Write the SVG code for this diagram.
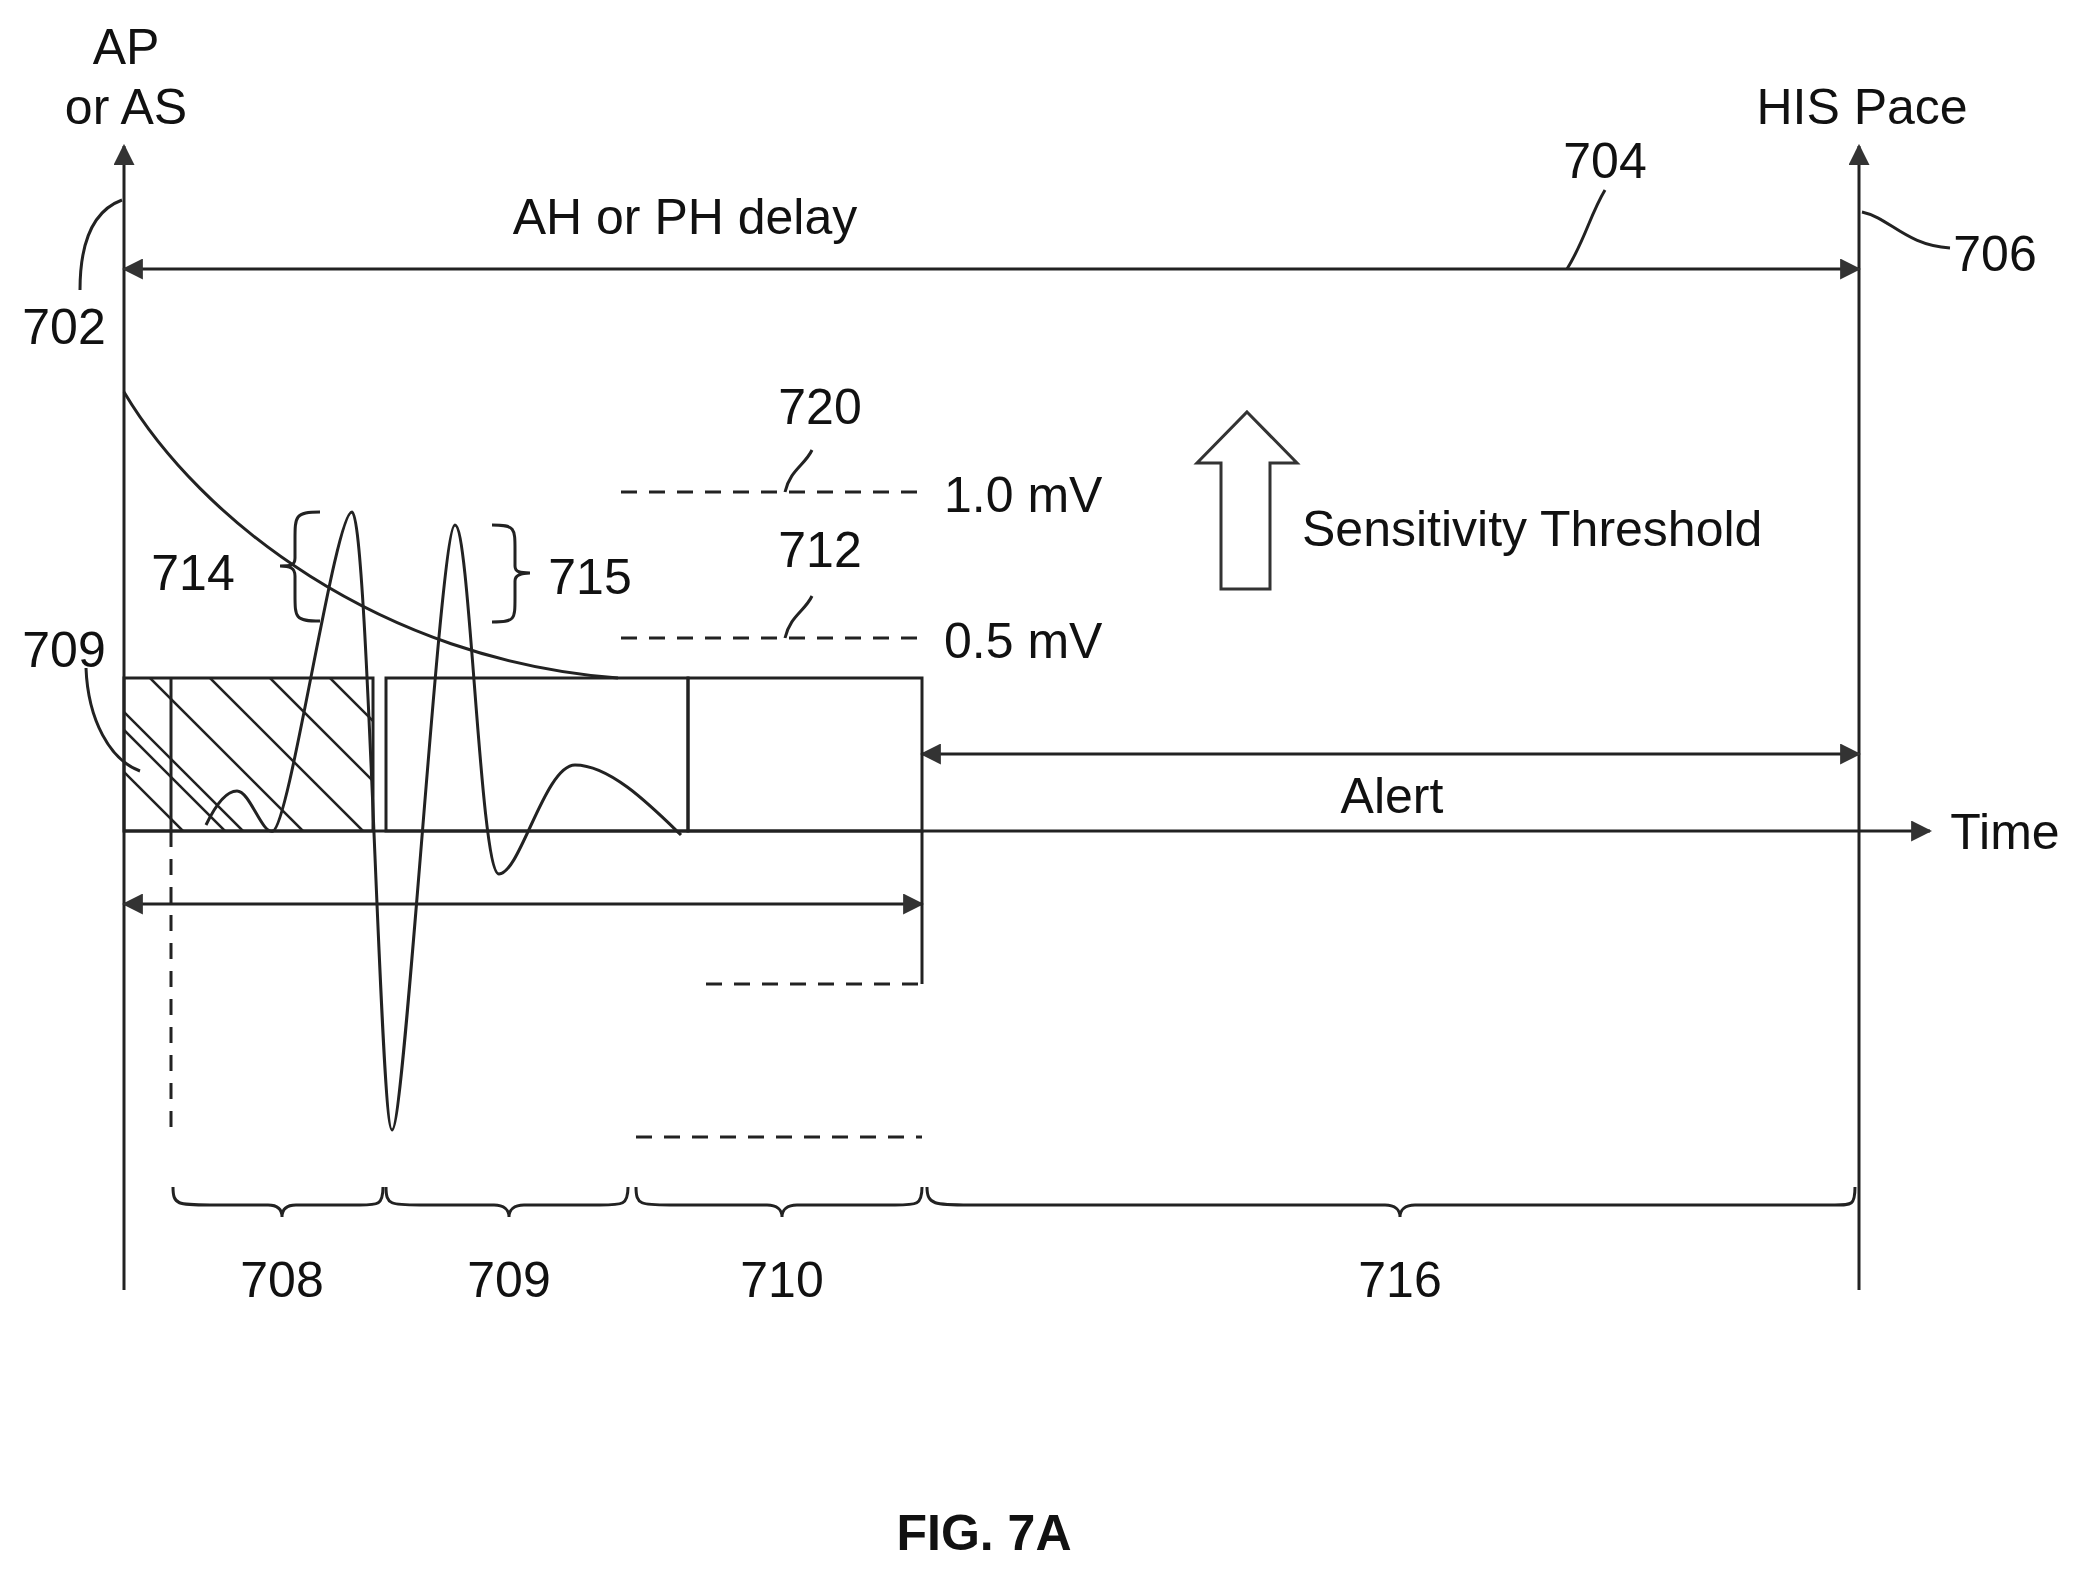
<svg xmlns="http://www.w3.org/2000/svg" width="2085" height="1572" viewBox="0 0 2085 1572">
<style>
text{font-family:"Liberation Sans",Arial,sans-serif;font-size:50px;fill:#111}
.l{stroke:#222;stroke-width:3;fill:none}
.d{stroke:#222;stroke-width:3;fill:none;stroke-dasharray:16 12}
.h{stroke:#222;stroke-width:2.5}
</style>
<defs>
<marker id="a" viewBox="0 0 10 10" refX="9" refY="5" markerWidth="7" markerHeight="7" orient="auto-start-reverse"><path d="M0 0L10 5L0 10z" fill="#333"/></marker>
<clipPath id="hc"><rect x="124" y="678" width="249" height="153"/></clipPath>
</defs>
<g id="connectors">
<line class="l" x1="124" y1="1290" x2="124" y2="146" marker-end="url(#a)"/>
<line class="l" x1="1859" y1="1290" x2="1859" y2="146" marker-end="url(#a)"/>
<line class="l" x1="124" y1="269" x2="1859" y2="269" marker-start="url(#a)" marker-end="url(#a)"/>
<path class="l" d="M1567 269C1585 240 1590 215 1605 190"/>
<path class="l" d="M1862 212C1890 218 1905 245 1950 248"/>
<path class="l" d="M122 200C95 210 80 240 80 290"/>
<line class="l" x1="124" y1="831" x2="1930" y2="831" marker-end="url(#a)"/>
<line class="l" x1="922" y1="754" x2="1859" y2="754" marker-start="url(#a)" marker-end="url(#a)"/>
<line class="l" x1="124" y1="904" x2="922" y2="904" marker-start="url(#a)" marker-end="url(#a)"/>
<path class="l" d="M124 392C200 520 380 660 618 678" stroke-width="5"/>
<line class="d" x1="621" y1="492" x2="918" y2="492"/>
<line class="d" x1="621" y1="638" x2="918" y2="638"/>
<path class="l" d="M785 492C790 470 805 465 812 450"/>
<path class="l" d="M785 638C790 616 805 611 812 596"/>
<rect class="l" x="124" y="678" width="249" height="153"/>
<g clip-path="url(#hc)">
<path class="h" d="M90 678L243 831M150 678L303 831M210 678L363 831M270 678L423 831M330 678L483 831M30 678L183 831M124 730L225 831"/>
</g>
<line class="l" x1="171" y1="678" x2="171" y2="831"/>
<rect class="l" x="386" y="678" width="302" height="153"/>
<rect class="l" x="688" y="678" width="234" height="153"/>
<polyline class="l" points="922,831 922,984"/>
<line class="d" x1="706" y1="984" x2="922" y2="984"/>
<line class="d" x1="636" y1="1137" x2="922" y2="1137"/>
<line class="d" x1="171" y1="831" x2="171" y2="1130"/>
<path class="l" d="M206 825C218 800 228 791 237 791C250 791 262 835 273 831C290 825 335 512 352 512C368 512 380 1130 392 1130C405 1130 440 525 455 525C470 525 480 874 499 874C520 874 545 765 575 765C610 765 650 805 681 835"/>
<path class="l" d="M140 771C110 760 88 720 86 668"/>
<path class="l" d="M320 512C295 512 295 516 295 540L295 558C295 566 290 566 280 566C290 566 295 568 295 576L295 594C295 618 295 621 320 621"/>
<path class="l" d="M492 525C515 525 515 528 515 550L515 566C515 572 520 573 530 573C520 573 515 575 515 581L515 597C515 620 515 622 492 622"/>
<path class="l" d="M173 1187C173 1205 178 1205 210 1205L268 1205C278 1205 282 1210 282 1217C282 1210 286 1205 296 1205L360 1205C378 1205 383 1205 383 1187"/>
<path class="l" d="M386 1187C386 1205 391 1205 420 1205L494 1205C504 1205 509 1210 509 1217C509 1210 514 1205 524 1205L600 1205C623 1205 628 1205 628 1187"/>
<path class="l" d="M636 1187C636 1205 641 1205 670 1205L767 1205C777 1205 782 1210 782 1217C782 1210 787 1205 797 1205L895 1205C917 1205 922 1205 922 1187"/>
<path class="l" d="M927 1187C927 1205 935 1205 970 1205L1385 1205C1395 1205 1400 1210 1400 1217C1400 1210 1405 1205 1415 1205L1835 1205C1852 1205 1855 1205 1855 1187"/>
</g>
<g id="arrow-thr"><path d="M1247 412L1297 463L1270 463L1270 589L1221 589L1221 463L1197 463Z" fill="#fff" stroke="#333" stroke-width="3"/></g>
<g id="labels">
<text x="126" y="64" text-anchor="middle">AP</text>
<text x="126" y="124" text-anchor="middle">or AS</text>
<text x="1862" y="124" text-anchor="middle">HIS Pace</text>
<text x="1605" y="178" text-anchor="middle">704</text>
<text x="685" y="234" text-anchor="middle">AH or PH delay</text>
<text x="1995" y="271" text-anchor="middle">706</text>
<text x="64" y="344" text-anchor="middle">702</text>
<text x="820" y="424" text-anchor="middle">720</text>
<text x="944" y="512">1.0 mV</text>
<text x="820" y="567" text-anchor="middle">712</text>
<text x="944" y="658">0.5 mV</text>
<text x="1302" y="546">Sensitivity Threshold</text>
<text x="193" y="590" text-anchor="middle">714</text>
<text x="590" y="594" text-anchor="middle">715</text>
<text x="64" y="667" text-anchor="middle">709</text>
<text x="1392" y="813" text-anchor="middle">Alert</text>
<text x="2005" y="849" text-anchor="middle">Time</text>
<text x="282" y="1297" text-anchor="middle">708</text>
<text x="509" y="1297" text-anchor="middle">709</text>
<text x="782" y="1297" text-anchor="middle">710</text>
<text x="1400" y="1297" text-anchor="middle">716</text>
<text x="984" y="1550" text-anchor="middle" font-weight="bold" font-size="56">FIG. 7A</text>
</g>
</svg>
